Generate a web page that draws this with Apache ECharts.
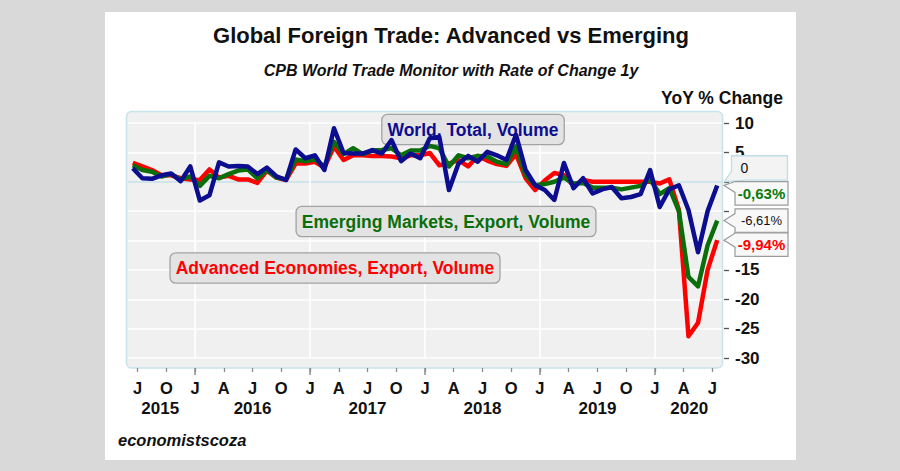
<!DOCTYPE html>
<html>
<head>
<meta charset="utf-8">
<script src="https://cdn.jsdelivr.net/npm/echarts/dist/echarts.min.js"></script>
<style>
html,body{margin:0;padding:0;background:#d9d9d9;}
#chart{width:900px;height:471px;}
</style>
</head>
<body>
<div id="chart"></div>
<script>
// ---------- data ----------
const months = [
 '2015-06','2015-07','2015-08','2015-09','2015-10','2015-11','2015-12',
 '2016-01','2016-02','2016-03','2016-04','2016-05','2016-06','2016-07','2016-08','2016-09','2016-10','2016-11','2016-12',
 '2017-01','2017-02','2017-03','2017-04','2017-05','2017-06','2017-07','2017-08','2017-09','2017-10','2017-11','2017-12',
 '2018-01','2018-02','2018-03','2018-04','2018-05','2018-06','2018-07','2018-08','2018-09','2018-10','2018-11','2018-12',
 '2019-01','2019-02','2019-03','2019-04','2019-05','2019-06','2019-07','2019-08','2019-09','2019-10','2019-11','2019-12',
 '2020-01','2020-02','2020-03','2020-04','2020-05','2020-06','2020-07'
];
// month boundaries (start of each month) used for ticks / labels
const boundaries = months.concat(['2020-08']);

const world = [2.3,0.6,0.5,1.1,1.4,0.1,2.6,-3.2,-2.3,3.3,
 2.6,2.7,2.6,1.3,2.4,0.9,0.3,5.5,4.0,4.5,
 2.0,9.1,4.9,4.8,4.8,5.4,4.8,7.1,3.5,4.8,
 4.0,7.4,7.6,-1.4,3.1,4.4,3.4,5.1,4.5,3.7,
 8.0,2.0,-0.6,-1.4,-3.1,3.2,-1.1,0.6,-2.0,-1.3,
 -0.9,-2.8,-2.6,-2.1,2.0,-4.3,-1.3,-0.6,-4.8,-12.0,
 -5.0,-0.63];
const emerging = [2.8,2.0,1.7,0.9,1.3,0.4,0.9,-0.7,1.0,0.6,
 1.3,1.9,2.1,0.6,2.0,0.7,0.4,3.8,3.5,3.8,
 2.6,6.8,4.7,5.7,4.7,5.3,5.4,5.7,4.5,5.3,
 5.3,6.1,5.7,2.6,4.5,4.0,4.4,4.3,3.4,3.0,
 6.0,1.1,-0.6,-0.4,0.0,0.7,-0.3,-0.2,-1.0,-1.0,
 -1.0,-1.3,-1.0,-0.7,0.4,-2.1,-1.1,-5.0,-16.2,-17.8,
 -10.8,-6.61];
const advanced = [3.2,2.6,2.0,1.1,1.1,0.6,0.4,0.3,2.1,0.7,
 1.0,0.4,0.4,-0.2,1.9,0.7,0.3,3.1,3.1,3.4,
 2.4,6.0,3.7,4.5,4.5,4.4,4.4,4.3,4.0,4.5,
 4.5,4.9,2.8,3.1,3.7,2.6,4.4,3.6,3.0,2.7,
 4.7,0.6,-1.4,0.2,1.5,1.1,-0.7,0.3,0.0,0.0,
 0.0,0.0,0.0,0.0,0.0,-0.3,0.4,-4.8,-26.3,-24.0,
 -15.0,-9.94];

const monthLetters = {'01':'J','04':'A','07':'J','10':'O'};
const yearLabels = ['2015','2016','2017','2018','2019','2020'];
const yearAnchors = ['2015-09','2016-07','2017-07','2018-07','2019-07','2020-05'];
const yMin = -30, yMax = 10, yStep = 5;
const hiddenYLabels = [0,-5,-10];

const seriesNames = ['Advanced Economies, Export, Volume','Emerging Markets, Export, Volume','World, Total, Volume'];
const titleText = 'Global Foreign Trade: Advanced vs Emerging';
const subtitleText = 'CPB World Trade Monitor with Rate of Change 1y';
const unitText = 'YoY % Change';
const sourceText = 'economistscoza';

// ---------- chart ----------
const FONT = "'Liberation Sans', Arial, Helvetica, sans-serif";
const RED = '#ff0000', GREEN = '#0a6e0a', BLUE = '#0d0d8f';

const isQuarter = (i, v) => monthLetters.hasOwnProperty(v.slice(5));
const isJan = (i, v) => v.slice(5) === '01';

const chart = echarts.init(document.getElementById('chart'), null, {renderer:'svg'});

function boxText(id, text, cx, cy, color){
  return {
    id: id, type:'text', x: cx, y: cy, z: 1,
    style: {
      text: text, fill: color, fontFamily: FONT, fontSize: 17.5, fontWeight: 'bold',
      align:'center', verticalAlign:'middle', textAlign:'center', textVerticalAlign:'middle',
      backgroundColor:'#e3e3e3', borderColor:'#a3a3a3', borderWidth:1.3, borderRadius:5,
      padding:[6,5,5,5]
    }
  };
}

const option = {
  backgroundColor: '#d9d9d9',
  animation: false,
  grid: {left:128, width:594, top:123, height:235, containLabel:false, outerBoundsMode:'none'},
  xAxis: [
    {type:'category', data: months, boundaryGap:true, show:false},
    {type:'category', data: boundaries, boundaryGap:false, position:'bottom', offset:10,
      axisLine:{show:false},
      axisTick:{show:true, interval:isQuarter, length:4, lineStyle:{color:'#8c8c8c', width:1.3}},
      axisLabel:{interval:isQuarter,
        formatter: v => monthLetters[v.slice(5)] || '',
        fontFamily:FONT, fontSize:16.5, fontWeight:'bold', color:'#111', margin:11},
      splitLine:{show:true, interval:isJan, lineStyle:{color:'#ffffff', width:1.6}}
    },
    {type:'category', data: boundaries, boundaryGap:false, position:'bottom', offset:10,
      axisLine:{show:false},
      axisTick:{show:true, interval:isJan, length:7, lineStyle:{color:'#8c8c8c', width:1.5}},
      axisLabel:{interval:(i,v)=>yearAnchors.indexOf(v)>=0,
        formatter: v => {
          const k = yearAnchors.indexOf(v);
          if (k < 0) return '';
          if (k === 0) return '{r|' + yearLabels[k] + '}';
          if (k === yearLabels.length-1) return '{l|' + yearLabels[k] + '}';
          return '{n|' + yearLabels[k] + '}';
        },
        rich:{r:{padding:[0,0,0,7]}, l:{padding:[0,8,0,0]}, n:{}},
        fontFamily:FONT, fontSize:17, fontWeight:'bold', color:'#111', margin:32},
      splitLine:{show:false}
    }
  ],
  yAxis: {
    type:'value', position:'right', min:yMin, max:yMax, interval:yStep, offset:2,
    axisLine:{show:false},
    axisTick:{show:true, length:5, lineStyle:{color:'#555', width:1.3}},
    axisLabel:{margin:11, fontFamily:FONT, fontSize:17, fontWeight:'bold', color:'#111',
      formatter: v => hiddenYLabels.indexOf(v) >= 0 ? '' : String(v)},
    splitLine:{show:true, lineStyle:{width:1.5,
      color:['#ffffff','#ffffff','#ffffff','#ffffff','#ffffff','#ffffff','#c4e2ea','#ffffff','#ffffff']}}
  },
  series: [
    {name:seriesNames[0], type:'line', data:advanced, xAxisIndex:0, yAxisIndex:0, symbol:'none', z:2,
      lineStyle:{color:RED, width:4.5, join:'round'}, itemStyle:{color:RED}},
    {name:seriesNames[1], type:'line', data:emerging, xAxisIndex:0, yAxisIndex:0, symbol:'none', z:3,
      lineStyle:{color:GREEN, width:4.5, join:'round'}, itemStyle:{color:GREEN}},
    {name:seriesNames[2], type:'line', data:world, xAxisIndex:0, yAxisIndex:0, symbol:'none', z:4,
      lineStyle:{color:BLUE, width:4.5, join:'round'}, itemStyle:{color:BLUE}}
  ],
  graphic: [
    {id:'panel', type:'rect', z:-20, shape:{x:105, y:12, width:691, height:448}, style:{fill:'#ffffff'}},
    {id:'plotbg', type:'rect', z:-10, shape:{x:126.5, y:111.5, width:596, height:256.5, r:5},
      style:{fill:'#f0f0f0', stroke:'#c8e3eb', lineWidth:1.5}},
    {id:'title', type:'text', x:451, y:35, style:{text:titleText, fill:'#111', fontFamily:FONT, fontSize:22, fontWeight:'bold',
      align:'center', verticalAlign:'middle', textAlign:'center', textVerticalAlign:'middle'}},
    {id:'subtitle', type:'text', x:451, y:70, style:{text:subtitleText, fill:'#111', fontFamily:FONT, fontSize:16, fontWeight:'bold', fontStyle:'italic',
      align:'center', verticalAlign:'middle', textAlign:'center', textVerticalAlign:'middle'}},
    {id:'unit', type:'text', x:722, y:98, style:{text:unitText, fill:'#111', fontFamily:FONT, fontSize:17.5, fontWeight:'bold',
      align:'center', verticalAlign:'middle', textAlign:'center', textVerticalAlign:'middle'}},
    {id:'source', type:'text', x:118, y:440, style:{text:sourceText, fill:'#111', fontFamily:FONT, fontSize:16.5, fontWeight:'bold', fontStyle:'italic',
      align:'left', verticalAlign:'middle', textAlign:'left', textVerticalAlign:'middle'}},
    boxText('lblWorld', seriesNames[2], 473, 129.5, BLUE),
    boxText('lblEm', seriesNames[1], 446, 221.5, GREEN),
    boxText('lblAdv', seriesNames[0], 335, 268, RED)
  ]
};
chart.setOption(option);

// ---------- end-of-line callouts (positions from the axes) ----------
const fmt = v => v.toFixed(2).replace('.', ',') + '%';
const last = months.length - 1;
const xRight = chart.convertToPixel({xAxisIndex:1}, boundaries.length - 1);
const yPix = v => chart.convertToPixel({yAxisIndex:0}, v);
const callouts = [
  {v: world[last], color:'#0a7a0a', weight:'bold', size:15},
  {v: emerging[last], color:'#111111', weight:'normal', size:13},
  {v: advanced[last], color:'#ff0000', weight:'bold', size:15}
].sort((a,b) => b.v - a.v);

const g = [];
// zero-level callout
const y0 = yPix(0);
const bx0 = xRight + 9.5, w0 = 56, top0 = y0 - 26, bot0 = y0 - 1.7, tx0 = xRight + 2.5;
g.push({id:'zbox', type:'polygon', z:10,
  shape:{points:[[bx0,top0],[bx0+w0,top0],[bx0+w0,bot0],[bx0+15,bot0],[tx0,y0],[bx0,bot0-9]]},
  style:{fill:'#f3f3f3', stroke:'#bfdde6', lineWidth:1.3}});
g.push({id:'ztxt', type:'text', z:11, x:bx0+9, y:(top0+bot0)/2,
  style:{text:String(0), fill:'#111', fontFamily:FONT, fontSize:14,
    align:'left', verticalAlign:'middle', textAlign:'left', textVerticalAlign:'middle'}});

let prevBottom = bot0 + 1.5;
const bx = xRight + 13, w = 53, h = 23.5, tx = xRight + 2;
callouts.forEach((c, k) => {
  const ty = yPix(c.v);
  const top = Math.max(ty - h/2, prevBottom);
  const bottom = top + h;
  prevBottom = bottom + 0.5;
  const n1 = Math.max(top, ty - 7), n2 = Math.min(bottom, ty + 7);
  g.push({id:'cbox'+k, type:'polygon', z:10,
    shape:{points:[[bx,top],[bx+w,top],[bx+w,bottom],[bx,bottom],[bx,n2],[tx,ty],[bx,n1]]},
    style:{fill:'#f8f8f8', stroke:'#9a9a9a', lineWidth:1.2}});
  g.push({id:'ctxt'+k, type:'text', z:11, x:bx + w/2, y:(top+bottom)/2,
    style:{text:fmt(c.v), fill:c.color, fontFamily:FONT, fontSize:c.size, fontWeight:c.weight,
      align:'center', verticalAlign:'middle', textAlign:'center', textVerticalAlign:'middle'}});
});
chart.setOption({graphic: g});
</script>
</body>
</html>
